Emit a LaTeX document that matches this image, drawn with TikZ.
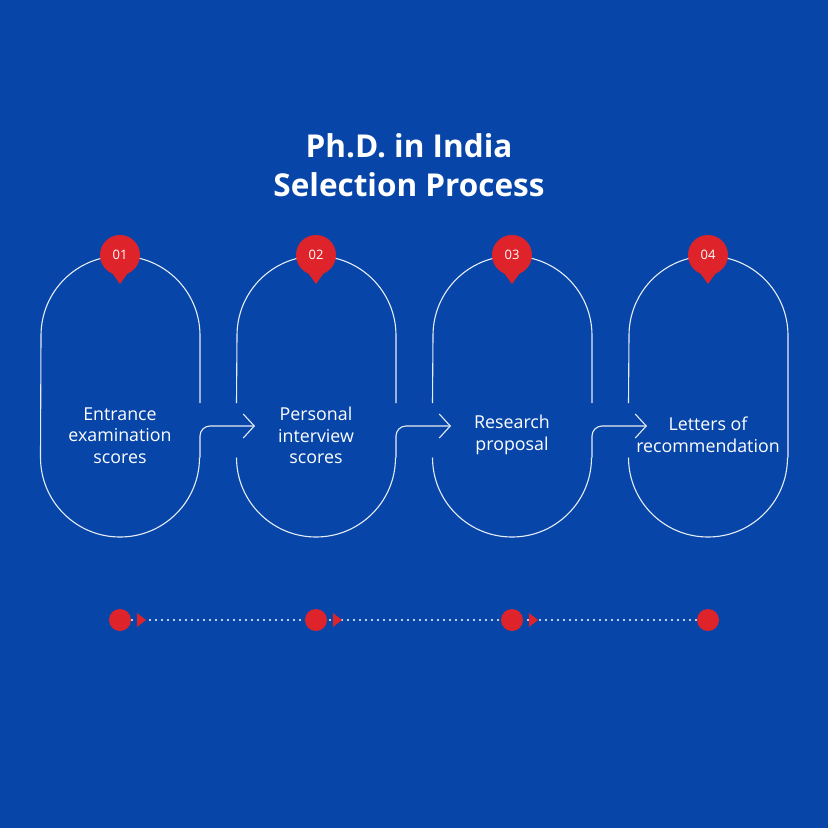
\documentclass[tikz,border=0pt]{standalone}
\usepackage{fontspec}
\setmainfont{Open Sans}
\usetikzlibrary{arrows.meta}
\definecolor{bg}{RGB}{7,70,168}
\definecolor{pinred}{RGB}{222,35,42}
\begin{document}
\begin{tikzpicture}[x=1pt,y=-1pt,
  capline/.style={draw=white!90!bg, line width=1.1pt},
  conn/.style={capline, rounded corners=10pt, -{Straight Barb[length=11pt,width=24pt,line width=1.1pt]}},
  label/.style={text=white, font=\fontsize{17.8}{21.5}\selectfont, align=center},
  pinnum/.style={text=white, font=\fontsize{13}{14}\selectfont},
  pinfill/.style={fill=pinred},
  dotfill/.style={fill=pinred},
  dotline/.style={draw=white, line width=2.2pt, line cap=round, dash pattern=on 0pt off 6pt}]
\fill[bg] (0,0) rectangle (828,828);
\useasboundingbox (0,0) rectangle (828,828);

% title
\node[text=white, font=\bfseries\fontsize{31.5}{39}\selectfont, align=center] (title) at (409,165) {Ph.D. in India\\Selection Process};

% capsule 1
\draw[capline] (200,403) -- (200,335.5) arc[start angle=0,end angle=-180,radius=79.5] -- (40.5,457.5) arc[start angle=180,end angle=0,radius=79.5];
% capsule 2
\draw[capline] (396,403) -- (396,335.5) arc[start angle=0,end angle=-180,radius=79.5] -- (236.5,403);
\draw[capline] (236.5,457.5) arc[start angle=180,end angle=0,radius=79.5];
% capsule 3
\draw[capline] (592,403) -- (592,335.5) arc[start angle=0,end angle=-180,radius=79.5] -- (432.5,403);
\draw[capline] (432.5,457.5) arc[start angle=180,end angle=0,radius=79.5];
% capsule 4
\draw[capline] (788,457.5) -- (788,335.5) arc[start angle=0,end angle=-180,radius=79.5] -- (628.5,403);
\draw[capline] (628.5,457.5) arc[start angle=180,end angle=0,radius=79.5];

% connectors
\coordinate (c1s) at (200,457.5); \coordinate (c1e) at (255,426);
\coordinate (c2s) at (396,457.5); \coordinate (c2e) at (451,426);
\coordinate (c3s) at (592,457.5); \coordinate (c3e) at (647,426);
\draw[conn] (c1s) |- (c1e);
\draw[conn] (c2s) |- (c2e);
\draw[conn] (c3s) |- (c3e);

% labels
\node[label] (t1) at (120,435.5) {Entrance\\examination\\scores};
\node[label] (t2) at (316,435.5) {Personal\\interview\\scores};
\node[label] (t3) at (512,435) {Research\\proposal};
\node[label] (t4) at (708,435) {Letters of\\recommendation};

% pins
\foreach \i/\x in {1/120,2/316,3/512,4/708}{
  \fill[pinred] (\x,255) circle[radius=20];
  \fill[pinred] (\x-10,270) -- (\x,284) -- (\x+10,270) -- cycle;
  \node[pinnum] (p\i) at (\x,255) {0\i};
}

% timeline
\coordinate (d1) at (120,620); \coordinate (d2) at (316,620);
\coordinate (d3) at (512,620); \coordinate (d4) at (708,620);
\draw[dotline] (d1) -- (d4);
\foreach \i/\x in {1/120,2/316,3/512,4/708}{
  \fill[dotfill] (d\i) circle[radius=11];
}
\foreach \x in {120,316,512}{
  \fill[dotfill] (\x+17,613) -- (\x+26,620) -- (\x+17,627) -- cycle;
}
\end{tikzpicture}
\end{document}
